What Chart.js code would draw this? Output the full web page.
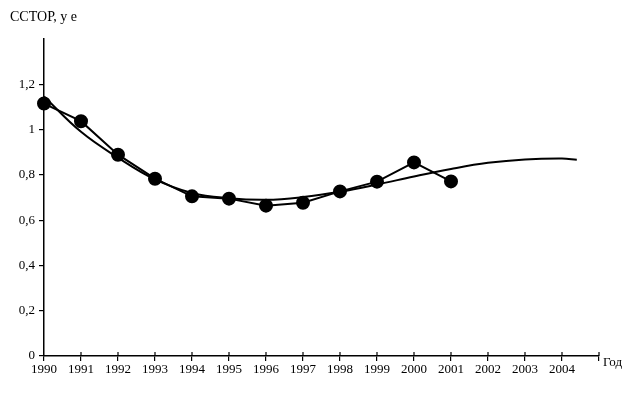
<!DOCTYPE html>
<html>
<head>
<meta charset="utf-8">
<script src="https://cdn.jsdelivr.net/npm/chart.js@4/dist/chart.umd.min.js"></script>
<style>
  html, body { margin: 0; padding: 0; background: #fff; }
  #wrap { width: 633px; height: 393px; }
</style>
</head>
<body>
<div id="wrap"><canvas id="chart" width="633" height="393"></canvas></div>
<script>
// actual values by year
const years = [1990, 1991, 1992, 1993, 1994, 1995, 1996, 1997, 1998, 1999, 2000, 2001]
const actual = [1.115, 1.037, 0.889, 0.783, 0.705, 0.695, 0.664, 0.677, 0.727, 0.77, 0.855, 0.771]

// smoothed trend with forecast
const trendYears = [1990, 1991, 1992, 1993, 1994, 1995, 1996, 1997, 1998, 1999, 2000, 2001, 2002, 2003, 2004, 2004.4]
const trend = [1.146, 0.99, 0.876, 0.78, 0.72, 0.697, 0.69, 0.702, 0.725, 0.757, 0.793, 0.826, 0.853, 0.868, 0.872, 0.867]

const yTicks = [0, 0.2, 0.4, 0.6, 0.8, 1, 1.2]

const serif = '"Liberation Serif", "DejaVu Serif", serif'

const axisLabels = {
  id: 'axisLabels',
  afterDraw(chart) {
    const c = chart.ctx
    const xs = chart.scales.x
    const yBase = chart.scales.y.getPixelForValue(0)
    c.save()
    // tick marks cross the x axis, upper half
    c.strokeStyle = '#000'
    c.lineWidth = 1.2
    for (let yr = 1991; yr <= 2005; yr++) {
      const px = xs.getPixelForValue(yr)
      c.beginPath()
      c.moveTo(px, yBase)
      c.lineTo(px, yBase - 4)
      c.stroke()
    }
    c.fillStyle = '#000'
    c.font = '14px ' + serif
    c.textBaseline = 'alphabetic'
    c.textAlign = 'left'
    c.fillText('ССТОР, у е', 10, 21)
    c.font = '13px ' + serif
    c.textBaseline = 'middle'
    c.fillText('Год', 603, 363)
    c.restore()
  }
}

new Chart(document.getElementById('chart').getContext('2d'), {
  type: 'line',
  data: {
    datasets: [{
      data: trendYears.map((x, i) => ({ x: x, y: trend[i] })),
      borderColor: '#000',
      borderWidth: 2,
      pointRadius: 0,
      tension: 0.4,
      clip: false
    }, {
      data: years.map((x, i) => ({ x: x, y: actual[i] })),
      borderColor: '#000',
      borderWidth: 2,
      tension: 0,
      pointRadius: 6,
      pointBackgroundColor: '#000',
      pointBorderColor: '#000',
      clip: false
    }]
  },
  options: {
    responsive: false,
    animation: false,
    layout: { padding: { top: 39, right: 34, left: 0, bottom: 0 } },
    plugins: { legend: false, tooltip: { enabled: false } },
    scales: {
      x: {
        type: 'linear',
        min: 1990,
        max: 2005,
        afterFit: (scale) => { scale.height = 37 },
        border: { color: '#000', width: 1.5 },
        grid: { drawOnChartArea: false, color: '#000', tickLength: 5, lineWidth: 1.2 },
        ticks: {
          stepSize: 1,
          padding: 1,
          maxRotation: 0,
          autoSkip: false,
          color: '#000',
          font: { family: serif, size: 13 },
          callback: (v) => v === 2005 ? '' : String(v)
        }
      },
      y: {
        min: 0,
        max: 1.4,
        afterFit: (scale) => { scale.width = 44 },
        afterBuildTicks: (scale) => {
          scale.ticks = yTicks.map(v => ({ value: v }))
        },
        border: { color: '#000', width: 1.5 },
        grid: { drawOnChartArea: false, color: '#000', tickLength: 5, lineWidth: 1.2 },
        ticks: {
          padding: 4,
          color: '#000',
          font: { family: serif, size: 13 },
          callback: (v) => String(+v.toFixed(1)).replace('.', ',')
        }
      }
    }
  },
  plugins: [axisLabels]
})
</script>
</body>
</html>
